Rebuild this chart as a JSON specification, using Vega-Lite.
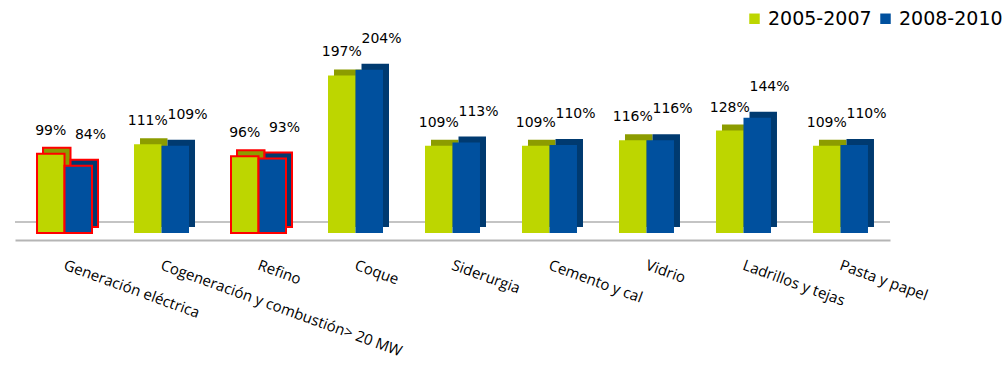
{
  "$schema": "https://vega.github.io/schema/vega-lite/v6.json",
  "autosize": {"type": "none"},
  "width": 875,
  "height": 200,
  "padding": {"left": 15, "top": 33, "right": 112, "bottom": 159},
  "background": "white",
  "config": {"view": {"stroke": null}},
  "data": {
    "values": [
      {"sector": "Generación eléctrica", "periodo": "2005-2007", "valor": 0.99},
      {"sector": "Generación eléctrica", "periodo": "2008-2010", "valor": 0.84},
      {"sector": "Cogeneración y combustión> 20 MW", "periodo": "2005-2007", "valor": 1.11},
      {"sector": "Cogeneración y combustión> 20 MW", "periodo": "2008-2010", "valor": 1.09},
      {"sector": "Refino", "periodo": "2005-2007", "valor": 0.96},
      {"sector": "Refino", "periodo": "2008-2010", "valor": 0.93},
      {"sector": "Coque", "periodo": "2005-2007", "valor": 1.97},
      {"sector": "Coque", "periodo": "2008-2010", "valor": 2.04},
      {"sector": "Siderurgia", "periodo": "2005-2007", "valor": 1.09},
      {"sector": "Siderurgia", "periodo": "2008-2010", "valor": 1.13},
      {"sector": "Cemento y cal", "periodo": "2005-2007", "valor": 1.09},
      {"sector": "Cemento y cal", "periodo": "2008-2010", "valor": 1.10},
      {"sector": "Vidrio", "periodo": "2005-2007", "valor": 1.16},
      {"sector": "Vidrio", "periodo": "2008-2010", "valor": 1.16},
      {"sector": "Ladrillos y tejas", "periodo": "2005-2007", "valor": 1.28},
      {"sector": "Ladrillos y tejas", "periodo": "2008-2010", "valor": 1.44},
      {"sector": "Pasta y papel", "periodo": "2005-2007", "valor": 1.09},
      {"sector": "Pasta y papel", "periodo": "2008-2010", "valor": 1.10}
    ]
  },
  "encoding": {
    "x": {
      "field": "sector", "type": "nominal", "sort": null,
      "scale": {"paddingInner": 0.433, "paddingOuter": 0.227},
      "axis": {
        "title": null, "ticks": false, "domain": true, "domainColor": "#b5b5b5", "domainWidth": 2,
        "offset": 7, "labelAngle": 20, "labelAlign": "left", "labelBaseline": "middle",
        "labelPadding": 24, "labelFont": "Open Sans", "labelFontSize": 15, "labelColor": "#000000",
        "labelLimit": 0, "labelOverlap": false, "labelDx": -14
      }
    },
    "y": {
      "field": "valor", "type": "quantitative",
      "scale": {"domain": [0, 2.5]},
      "axis": null
    }
  },
  "layer": [
    {
      "mark": {"type": "rule", "color": "#c4c4c4", "strokeWidth": 2, "yOffset": -11},
      "encoding": {"x": null, "y": {"datum": 0, "type": "quantitative", "scale": {"domain": [0, 2.5]}}}
    },
    {
      "transform": [{"filter": "datum.periodo === '2005-2007'"}],
      "mark": {"type": "bar", "width": {"band": 0.5}, "xOffset": -7.75, "yOffset": -6, "fill": "#8c9c00"},
      "encoding": {
        "stroke": {"condition": {"test": "datum.sector === 'Generación eléctrica' || datum.sector === 'Refino'", "value": "#ff0000"}, "value": null},
        "strokeWidth": {"value": 2}
      }
    },
    {
      "transform": [{"filter": "datum.periodo === '2005-2007'"}],
      "mark": {"type": "bar", "width": {"band": 0.5}, "xOffset": -13.75},
      "encoding": {
        "color": {
          "field": "periodo", "type": "nominal",
          "scale": {"domain": ["2005-2007", "2008-2010"], "range": ["#bdd600", "#00509e"]},
          "legend": {
            "title": null, "orient": "none", "direction": "horizontal",
            "legendX": 730, "legendY": -24,
            "symbolType": "square", "symbolSize": 110, "symbolStrokeWidth": 0,
            "labelFont": "DejaVu Sans", "labelFontSize": 19, "labelColor": "#000000",
            "labelOffset": 4, "columnPadding": 4
          }
        },
        "stroke": {"condition": {"test": "datum.sector === 'Generación eléctrica' || datum.sector === 'Refino'", "value": "#ff0000"}, "value": null},
        "strokeWidth": {"value": 2}
      }
    },
    {
      "transform": [{"filter": "datum.periodo === '2008-2010'"}],
      "mark": {"type": "bar", "width": {"band": 0.5}, "xOffset": 19.75, "yOffset": -6, "fill": "#003a70"},
      "encoding": {
        "stroke": {"condition": {"test": "datum.sector === 'Generación eléctrica' || datum.sector === 'Refino'", "value": "#ff0000"}, "value": null},
        "strokeWidth": {"value": 2}
      }
    },
    {
      "transform": [{"filter": "datum.periodo === '2008-2010'"}],
      "mark": {"type": "bar", "width": {"band": 0.5}, "xOffset": 13.75},
      "encoding": {
        "color": {"field": "periodo", "type": "nominal"},
        "stroke": {"condition": {"test": "datum.sector === 'Generación eléctrica' || datum.sector === 'Refino'", "value": "#ff0000"}, "value": null},
        "strokeWidth": {"value": 2}
      }
    },
    {
      "transform": [{"filter": "datum.periodo === '2005-2007'"}],
      "mark": {"type": "text", "font": "DejaVu Sans", "fontSize": 14, "color": "#000000", "dy": -16, "dx": -13.75, "baseline": "bottom"},
      "encoding": {"text": {"field": "valor", "type": "quantitative", "format": ".0%"}}
    },
    {
      "transform": [{"filter": "datum.periodo === '2008-2010'"}],
      "mark": {"type": "text", "font": "DejaVu Sans", "fontSize": 14, "color": "#000000", "dy": -24, "dx": 26, "baseline": "bottom"},
      "encoding": {"text": {"field": "valor", "type": "quantitative", "format": ".0%"}}
    }
  ]
}
